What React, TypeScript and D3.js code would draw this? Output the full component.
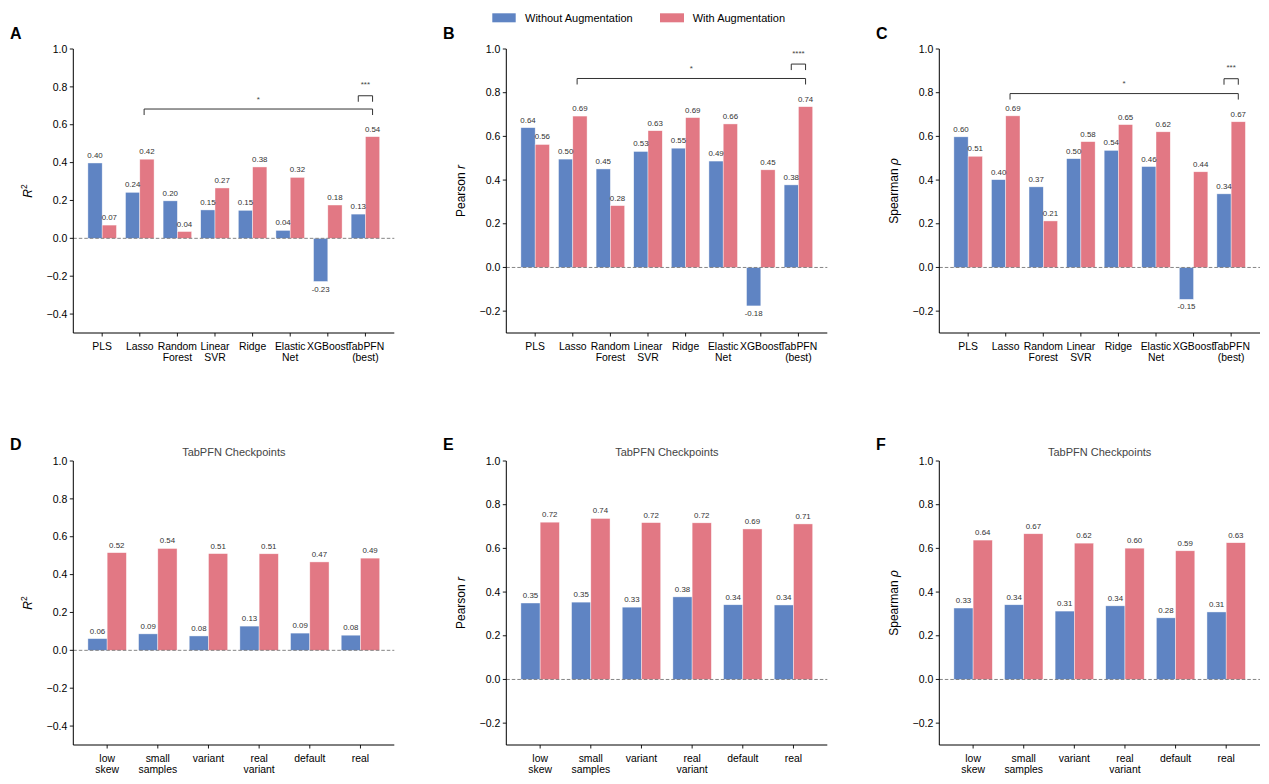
import React from "react";
import * as d3 from "d3";

const modelCats = ["PLS", "Lasso", "Random\nForest", "Linear\nSVR", "Ridge", "Elastic\nNet", "XGBoost", "TabPFN\n(best)"];
const ckptCats = ["low\nskew", "small\nsamples", "variant", "real\nvariant", "default", "real"];

const r2Without = [0.398, 0.243, 0.198, 0.15, 0.148, 0.042, -0.228, 0.128];
const r2With = [0.07, 0.418, 0.036, 0.266, 0.377, 0.322, 0.176, 0.537];
const pearWithout = [0.64, 0.496, 0.451, 0.531, 0.546, 0.487, -0.176, 0.378];
const pearWith = [0.563, 0.693, 0.283, 0.626, 0.686, 0.657, 0.447, 0.736];
const spWithout = [0.598, 0.402, 0.369, 0.498, 0.536, 0.462, -0.146, 0.337];
const spWith = [0.509, 0.694, 0.213, 0.576, 0.654, 0.621, 0.438, 0.667];

const ckR2Without = [0.062, 0.087, 0.076, 0.128, 0.091, 0.08];
const ckR2With = [0.516, 0.538, 0.511, 0.51, 0.467, 0.487];
const ckPearWithout = [0.35, 0.354, 0.331, 0.378, 0.342, 0.341];
const ckPearWith = [0.72, 0.737, 0.718, 0.717, 0.689, 0.712];
const ckSpWithout = [0.327, 0.342, 0.313, 0.337, 0.282, 0.309];
const ckSpWith = [0.638, 0.667, 0.624, 0.601, 0.589, 0.626];

const yTicksR2 = [-0.4, -0.2, 0.0, 0.2, 0.4, 0.6, 0.8, 1.0];
const yTicksCorr = [-0.2, 0.0, 0.2, 0.4, 0.6, 0.8, 1.0];

// significance brackets: [big bracket y, small bracket y] in data units
const sigA = [0.683, 0.753];
const sigB = [0.865, 0.931];
const sigC = [0.796, 0.864];
const sigLabelsA = ["*", "***"];
const sigLabelsB = ["*", "****"];
const sigLabelsC = ["*", "***"];

const seriesNames = ["Without Augmentation", "With Augmentation"];
const BLUE = "#5f84c3";
const PINK = "#e27884";
const FONT = "'Liberation Sans', Arial, Helvetica, sans-serif";

type PanelProps = {
  letter: string;
  letterX: number;
  letterY: number;
  left: number;
  right: number;
  top: number;
  bottom: number;
  ymin: number;
  yTicks: number[];
  cats: string[];
  without: number[];
  withA: number[];
  ylabel: React.ReactNode;
  title?: string;
  sig?: number[];
  sigLabels?: string[];
};

const W = 0.38;

function fmtTick(v: number) {
  const s = Math.abs(v).toFixed(1);
  return v < -1e-9 ? "\u2212" + s : s;
}

function Panel(p: PanelProps) {
  const n = p.cats.length;
  const span = n - 1 + 2 * W;
  const margin = span * 0.05;
  const x = d3.scaleLinear().domain([-W - margin, n - 1 + W + margin]).range([p.left, p.right]);
  const y = d3.scaleLinear().domain([p.ymin, 1.0]).range([p.bottom, p.top]);
  const bw = x(W) - x(0);
  const bars: React.ReactNode[] = [];
  const labels: React.ReactNode[] = [];
  [p.without, p.withA].forEach((vals, si) => {
    vals.forEach((v, i) => {
      const cx = x(i + (si === 0 ? -W / 2 : W / 2));
      const y0 = y(0), y1 = y(v);
      bars.push(
        <rect key={`b${si}-${i}`} x={cx - bw / 2} y={Math.min(y0, y1)} width={bw} height={Math.abs(y1 - y0)}
          fill={si === 0 ? BLUE : PINK} stroke="#ffffff" strokeWidth={0.6} strokeOpacity={0.7} />
      );
      labels.push(
        <text key={`l${si}-${i}`} x={cx} y={v >= 0 ? y1 - 5 : y1 + 10} textAnchor="middle" fontSize={7.9} fill="#333">
          {v.toFixed(2)}
        </text>
      );
    });
  });
  const midY = (p.top + p.bottom) / 2;
  let sigEls: React.ReactNode = null;
  if (p.sig && p.sigLabels) {
    const leg = 6;
    const bx1 = x(1 + 0.115), bx2 = x(n - 1 + W / 2);
    const by = y(p.sig[0]);
    const sx1 = x(n - 1 - W / 2), sx2 = bx2;
    const sy = y(p.sig[1]);
    sigEls = (
      <g>
        <path d={`M${bx1},${by + leg}V${by}H${bx2}V${by + leg}`} fill="none" stroke="#333" strokeWidth={1} />
        <path d={`M${sx1},${sy + leg}V${sy}H${sx2}V${sy + leg}`} fill="none" stroke="#333" strokeWidth={1} />
        <text x={(bx1 + bx2) / 2} y={by - 7.5} textAnchor="middle" fontSize={8} fill="#444">{p.sigLabels[0]}</text>
        <text x={(sx1 + sx2) / 2} y={sy - 8.5} textAnchor="middle" fontSize={8} fill="#444">{p.sigLabels[1]}</text>
      </g>
    );
  }
  return (
    <g fontFamily={FONT}>
      <text x={p.letterX} y={p.letterY} fontSize={16} fontWeight="bold" fill="#000">{p.letter}</text>
      {p.title && (
        <text x={(p.left + p.right) / 2} y={p.top - 5} textAnchor="middle" fontSize={11} fill="#444">{p.title}</text>
      )}
      {bars}
      <line x1={p.left} x2={p.right} y1={y(0)} y2={y(0)} stroke="#777" strokeWidth={0.9} strokeDasharray="3.5,2" />
      {labels}
      {sigEls}
      <line x1={p.left} x2={p.left} y1={p.top} y2={p.bottom} stroke="#000" strokeWidth={1} />
      <line x1={p.left} x2={p.right} y1={p.bottom} y2={p.bottom} stroke="#000" strokeWidth={1} />
      {p.yTicks.map((t) => (
        <g key={`yt${t}`}>
          <line x1={p.left - 3.5} x2={p.left} y1={y(t)} y2={y(t)} stroke="#000" strokeWidth={0.9} />
          <text x={p.left - 6} y={y(t) + 3.7} textAnchor="end" fontSize={10.5} fill="#000">{fmtTick(t)}</text>
        </g>
      ))}
      {p.cats.map((c, i) => (
        <g key={`xt${i}`}>
          <line x1={x(i)} x2={x(i)} y1={p.bottom} y2={p.bottom + 3.5} stroke="#000" strokeWidth={0.9} />
          {c.split("\n").map((ln, j) => (
            <text key={j} x={x(i)} y={p.bottom + 17 + j * 10.8} textAnchor="middle" fontSize={10.4} fill="#000">{ln}</text>
          ))}
        </g>
      ))}
      <text transform={`translate(${p.left - 41},${midY}) rotate(-90)`} textAnchor="middle" fontSize={12} fill="#000">
        {p.ylabel}
      </text>
    </g>
  );
}

const r2Label = (
  <>
    <tspan fontStyle="italic">R</tspan>
    <tspan fontSize={8.5} dy={-5}>2</tspan>
  </>
);
const pearLabel = (
  <>
    Pearson <tspan fontStyle="italic">r</tspan>
  </>
);
const spLabel = (
  <>
    Spearman <tspan fontStyle="italic">ρ</tspan>
  </>
);

export default function App() {
  const colsX = [
    [73.3, 394.3],
    [506.3, 827.3],
    [939.3, 1260],
  ];
  const letterX = [10, 443, 876];
  return (
    <svg width={1269} height={784} style={{ position: "absolute", left: 0, top: 0, background: "#fff" }}>
      <g fontFamily={FONT}>
        <rect x={492.3} y={13.3} width={23.4} height={9} fill={BLUE} />
        <text x={525} y={22} fontSize={11} fill="#000">{seriesNames[0]}</text>
        <rect x={660} y={13.3} width={24} height={9} fill={PINK} />
        <text x={692.7} y={22} fontSize={11} fill="#000">{seriesNames[1]}</text>
      </g>
      <Panel letter="A" letterX={letterX[0]} letterY={38.5} left={colsX[0][0]} right={colsX[0][1]} top={49} bottom={333}
        ymin={-0.5} yTicks={yTicksR2} cats={modelCats} without={r2Without} withA={r2With} ylabel={r2Label}
        sig={sigA} sigLabels={sigLabelsA} />
      <Panel letter="B" letterX={letterX[1]} letterY={38.5} left={colsX[1][0]} right={colsX[1][1]} top={49} bottom={333}
        ymin={-0.3} yTicks={yTicksCorr} cats={modelCats} without={pearWithout} withA={pearWith} ylabel={pearLabel}
        sig={sigB} sigLabels={sigLabelsB} />
      <Panel letter="C" letterX={letterX[2]} letterY={38.5} left={colsX[2][0]} right={colsX[2][1]} top={49} bottom={333}
        ymin={-0.3} yTicks={yTicksCorr} cats={modelCats} without={spWithout} withA={spWith} ylabel={spLabel}
        sig={sigC} sigLabels={sigLabelsC} />
      <Panel letter="D" letterX={letterX[0]} letterY={450} left={colsX[0][0]} right={colsX[0][1]} top={461} bottom={745}
        ymin={-0.5} yTicks={yTicksR2} cats={ckptCats} without={ckR2Without} withA={ckR2With} ylabel={r2Label}
        title="TabPFN Checkpoints" />
      <Panel letter="E" letterX={letterX[1]} letterY={450} left={colsX[1][0]} right={colsX[1][1]} top={461} bottom={745}
        ymin={-0.3} yTicks={yTicksCorr} cats={ckptCats} without={ckPearWithout} withA={ckPearWith} ylabel={pearLabel}
        title="TabPFN Checkpoints" />
      <Panel letter="F" letterX={letterX[2]} letterY={450} left={colsX[2][0]} right={colsX[2][1]} top={461} bottom={745}
        ymin={-0.3} yTicks={yTicksCorr} cats={ckptCats} without={ckSpWithout} withA={ckSpWith} ylabel={spLabel}
        title="TabPFN Checkpoints" />
    </svg>
  );
}
